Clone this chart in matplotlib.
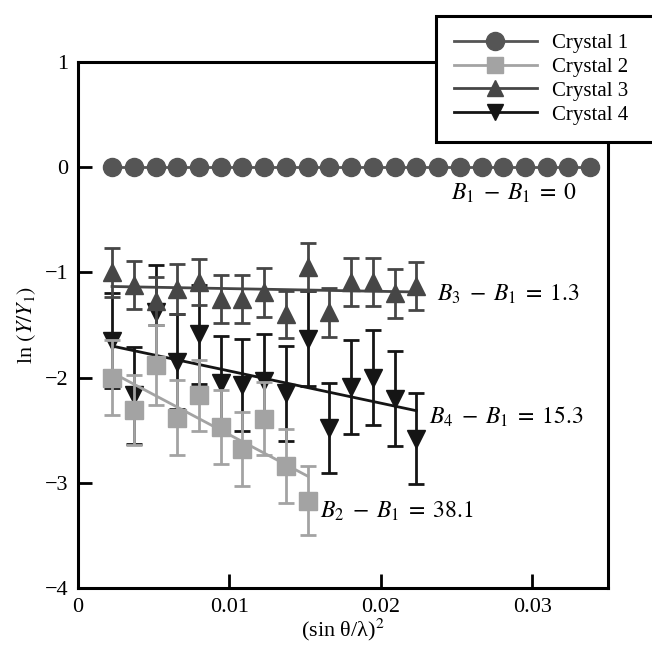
import matplotlib
matplotlib.use("Agg")
import matplotlib.pyplot as plt
from matplotlib.patches import Rectangle
import numpy as np

plt.rcParams['font.family'] = ['Liberation Serif', 'DejaVu Serif']
plt.rcParams['mathtext.fontset'] = 'stix'

# (sin theta / lambda)^2 positions of the reflections
s2 = [0.00225, 0.00369, 0.00512, 0.00656, 0.00799, 0.00943, 0.01086, 0.01230,
      0.01373, 0.01517, 0.01660, 0.01804, 0.01947, 0.02091, 0.02234, 0.02378,
      0.02521, 0.02665, 0.02808, 0.02952, 0.03095, 0.03239, 0.03382]

labels = ["Crystal 1", "Crystal 2", "Crystal 3", "Crystal 4"]

y1 = [0.0, 0.0, 0.0, 0.0, 0.0, 0.0, 0.0, 0.0, 0.0, 0.0, 0.0, 0.0,
      0.0, 0.0, 0.0, 0.0, 0.0, 0.0, 0.0, 0.0, 0.0, 0.0, 0.0]

y2 = [-2.00, -2.31, -1.88, -2.38, -2.17, -2.47, -2.68, -2.39, -2.84, -3.17]
e2 = [0.36, 0.33, 0.38, 0.36, 0.34, 0.35, 0.35, 0.35, 0.35, 0.33]

y3 = [-1.00, -1.12, -1.27, -1.16, -1.09, -1.25, -1.25, -1.19, -1.40, -0.95,
      -1.38, -1.09, -1.09, -1.20, -1.13]
e3 = [0.23, 0.23, 0.23, 0.24, 0.22, 0.23, 0.23, 0.23, 0.22, 0.23,
      0.23, 0.23, 0.23, 0.23, 0.23]

y4 = [-1.65, -2.17, -1.38, -1.85, -1.59, -2.05, -2.07, -2.03, -2.15, -1.63,
      -2.48, -2.09, -2.00, -2.20, -2.58]
e4 = [0.45, 0.46, 0.45, 0.45, 0.47, 0.45, 0.44, 0.44, 0.45, 0.45,
      0.43, 0.45, 0.45, 0.45, 0.43]

# fitted lines: ln(Y/Y1) = a - 2*(Bi - B1)*s2
delta_B = [0.0, 38.1, 1.3, 15.3]
intercepts = [0.0, -1.781, -1.128, -1.631]
annot = [r'$B_1\;-\;B_1\;=\;0$', r'$B_2\;-\;B_1\;=\;38.1$',
         r'$B_3\;-\;B_1\;=\;1.3$', r'$B_4\;-\;B_1\;=\;15.3$']

c1, c2, c3, c4 = '#555555', '#a3a3a3', '#464646', '#151515'

fig = plt.figure(figsize=(6.52, 6.48), dpi=100)
ax = fig.add_axes([0.1196, 0.0926, 0.8129, 0.8117])

def fit(i, xs):
    xs = np.array([xs[0], xs[-1]])
    return xs, intercepts[i] - 2 * delta_B[i] * xs

x1 = s2[:len(y1)]
x2 = s2[:len(y2)]
x3 = s2[:len(y3)]
x4 = s2[:len(y4)]

ms = 12.5
eb = dict(elinewidth=2.0, capsize=5.5, capthick=2.0, linestyle='none')

# Crystal 4
ax.errorbar(x4, y4, yerr=e4, fmt='v', color=c4, ms=ms, zorder=3, **eb)
fx, fy = fit(3, x4)
ax.plot(fx, fy, color=c4, lw=2, zorder=3)
# Crystal 3
ax.errorbar(x3, y3, yerr=e3, fmt='^', color=c3, ms=ms, zorder=4, **eb)
fx, fy = fit(2, x3)
ax.plot(fx, fy, color=c3, lw=2, zorder=4)
# Crystal 2
ax.errorbar(x2, y2, yerr=e2, fmt='s', color=c2, ms=ms, zorder=5, **eb)
fx, fy = fit(1, x2)
ax.plot(fx, fy, color=c2, lw=2, zorder=5)
# Crystal 1
fx, fy = fit(0, x1)
ax.plot(fx, fy, color=c1, lw=2, zorder=6)
ax.plot(x1, y1, 'o', color=c1, ms=13, zorder=6)

# legend handles
h1, = ax.plot([], [], '-o', color=c1, ms=13, lw=2)
h2, = ax.plot([], [], '-s', color=c2, ms=12, lw=2)
h3, = ax.plot([], [], '-^', color=c3, ms=12, lw=2)
h4, = ax.plot([], [], '-v', color=c4, ms=12, lw=2)
leg = fig.legend([h1, h2, h3, h4], labels,
                 loc='upper left', bbox_to_anchor=(436 / 652, 1 - 16 / 648),
                 bbox_transform=fig.transFigure, fontsize=15,
                 handlelength=4.0, handletextpad=0.7, labelspacing=0.2,
                 borderpad=0.85, borderaxespad=0, frameon=False)
leg.set_zorder(11)

# legend box running past the right edge of the figure (as in the original)
fig.canvas.draw()
bb = leg.get_window_extent()
W, H = fig.bbox.width, fig.bbox.height
box = Rectangle((bb.x0 / W, bb.y0 / H), 1.1 - bb.x0 / W, (bb.y1 - bb.y0) / H,
                transform=fig.transFigure, facecolor='white', edgecolor='black',
                linewidth=2.2, zorder=10, clip_on=False)
fig.patches.append(box)

# annotations
fs = 16
afs = 17
ax.text(0.0246, -0.25, annot[0], fontsize=afs, va='center')
ax.text(0.0237, -1.21, annot[2], fontsize=afs, va='center')
ax.text(0.0232, -2.37, annot[3], fontsize=afs, va='center')
ax.text(0.0160, -3.27, annot[1], fontsize=afs, va='center')

ax.set_xlim(0, 0.035)
ax.set_ylim(-4, 1)
ax.set_xticks([0, 0.01, 0.02, 0.03])
ax.set_xticklabels(['0', '0.01', '0.02', '0.03'])
ax.set_yticks([-4, -3, -2, -1, 0, 1])
ax.set_yticklabels(['\u22124', '\u22123', '\u22122', '\u22121', '0', '1'])
ax.tick_params(direction='in', length=10, width=2.0, labelsize=fs, pad=7,
               top=False, right=False)
for sp in ax.spines.values():
    sp.set_linewidth(2.2)

ax.set_xlabel('(sin \u03b8/\u03bb)$^2$', fontsize=fs, labelpad=0)
ax.set_ylabel(r'ln $(Y/Y_1)$', fontsize=fs, labelpad=5)

fig.savefig('out.png', dpi=100)
